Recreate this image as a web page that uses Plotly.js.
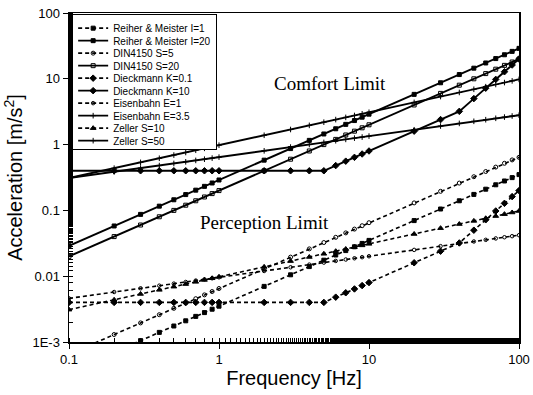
<!DOCTYPE html>
<html>
<head>
<meta charset="utf-8">
<script src="https://cdn.plot.ly/plotly-3.0.1.min.js"></script>
<style>html,body{margin:0;padding:0;background:#fff;}#chart{width:533px;height:395px;}</style>
</head>
<body>
<div id="chart"></div>
<script>
// Frequencies (Hz) where each curve is sampled
const freq = [0.1,0.2,0.3,0.4,0.5,0.6,0.7,0.8,0.9,1,2,3,4,5,6,7,8,9,10,20,30,40,50,60,70,80,90,100];

// Acceleration values [m/s^2]
const reiherI1 = [0.00035,0.0007,0.00105,0.0014,0.00175,0.0021,0.00245,0.0028,0.00315,0.0035,0.007,0.0105,0.014,0.0175,0.021,0.0245,0.028,0.0315,0.035,0.07,0.105,0.14,0.175,0.21,0.245,0.28,0.315,0.35];
const reiherI20 = [0.029,0.058,0.087,0.116,0.145,0.174,0.203,0.232,0.261,0.29,0.58,0.87,1.16,1.45,1.74,2.03,2.32,2.61,2.9,5.8,8.7,11.6,14.5,17.4,20.3,23.2,26.1,29];
const din5 = [0.00065,0.0013,0.00195,0.0026,0.00325,0.0039,0.00455,0.0052,0.00585,0.0065,0.013,0.0195,0.026,0.0325,0.039,0.0455,0.052,0.0585,0.065,0.13,0.195,0.26,0.325,0.39,0.455,0.52,0.585,0.64];
const din20 = [0.02,0.04,0.06,0.08,0.1,0.12,0.14,0.16,0.18,0.2,0.4,0.6,0.8,1,1.2,1.4,1.6,1.8,2,4,6,8,10,12,14,16,18,20];
const dieckK01 = [0.004,0.004,0.004,0.004,0.004,0.004,0.004,0.004,0.004,0.004,0.004,0.004,0.004,0.004,0.0048,0.0056,0.0064,0.0072,0.008,0.016,0.024,0.032,0.05,0.072,0.098,0.128,0.162,0.2];
const dieckK10 = [0.4,0.4,0.4,0.4,0.4,0.4,0.4,0.4,0.4,0.4,0.4,0.4,0.4,0.4,0.48,0.56,0.64,0.72,0.8,1.6,2.4,3.2,5,7.2,9.8,12.8,16.2,20];
const eisenE1 = [0.0046,0.00575,0.00655,0.00718,0.00771,0.00817,0.00858,0.00896,0.0093,0.00962,0.012,0.01368,0.015,0.0161,0.01707,0.01793,0.01872,0.01944,0.0201,0.0251,0.0286,0.0313,0.0337,0.0357,0.0375,0.0391,0.0406,0.042];
const eisenE35 = [0.31,0.385,0.44,0.48,0.517,0.547,0.575,0.6,0.623,0.645,0.804,0.917,1.005,1.08,1.144,1.2,1.254,1.302,1.347,1.68,1.916,2.1,2.26,2.39,2.51,2.62,2.72,2.8];
const zellerS10 = [0.0031,0.00438,0.00537,0.0062,0.00693,0.00759,0.0082,0.00877,0.0093,0.0098,0.01386,0.01697,0.0196,0.0219,0.024,0.0259,0.0277,0.0294,0.031,0.0438,0.0537,0.062,0.0693,0.0759,0.082,0.0877,0.093,0.098];
const zellerS50 = [0.31,0.438,0.537,0.62,0.693,0.759,0.82,0.877,0.93,0.98,1.386,1.697,1.96,2.19,2.4,2.59,2.77,2.94,3.1,4.38,5.37,6.2,6.93,7.59,8.2,8.77,9.3,9.8];

const seriesNames = ["Reiher & Meister I=1","Reiher & Meister I=20","DIN4150 S=5","DIN4150 S=20","Dieckmann K=0.1","Dieckmann K=10","Eisenbahn E=1","Eisenbahn E=3.5","Zeller S=10","Zeller S=50"];
const seriesData = [reiherI1,reiherI20,din5,din20,dieckK01,dieckK10,eisenE1,eisenE35,zellerS10,zellerS50];
const seriesSymbols = ["square","square","circle-open","square-open","diamond","diamond","circle-open","cross-thin","triangle-up","cross-thin"];
const seriesSizes = [4,4,4,4,5,5,3.5,4,5,4];

const DASH = "4px,3px";
const traces = seriesData.map((y, i) => {
  const dashed = (i % 2 === 0);
  return {
    x: freq, y: y, name: seriesNames[i], type: "scatter", mode: "lines+markers",
    line: {color: "#000", width: dashed ? 1.6 : 1.9, dash: dashed ? DASH : "solid"},
    marker: {symbol: seriesSymbols[i], size: seriesSizes[i], color: "#000", line: {color: "#000", width: 1}}
  };
});

const layout = {
  width: 533, height: 395,
  margin: {l: 69, r: 14, t: 13, b: 53},
  paper_bgcolor: "#fff", plot_bgcolor: "#fff",
  font: {family: "Liberation Sans, Arial, sans-serif", color: "#000", size: 13},
  showlegend: true,
  legend: {x: 0.007, y: 0.998, xanchor: "left", yanchor: "top", bgcolor: "#fff", bordercolor: "#000", borderwidth: 1,
           font: {size: 10, family: "Liberation Sans, Arial, sans-serif"}, itemwidth: 30, tracegroupgap: 0},
  xaxis: {
    type: "log", range: [-1, 2], showgrid: false, zeroline: false,
    showline: true, linecolor: "#000", linewidth: 1.5, mirror: true,
    ticks: "outside", ticklen: 5, tickcolor: "#000",
    tickvals: [0.1, 1, 10, 100], ticktext: ["0.1", "1", "10", "100"],
    minor: {ticks: "inside", ticklen: 4, tickcolor: "#000", showgrid: false},
    title: {text: "Frequency [Hz]", font: {size: 20}, standoff: 4}
  },
  yaxis: {
    type: "log", range: [-3, 2], showgrid: false, zeroline: false,
    showline: true, linecolor: "#000", linewidth: 1.5, mirror: true,
    ticks: "outside", ticklen: 5, tickcolor: "#000",
    tickvals: [0.001, 0.01, 0.1, 1, 10, 100], ticktext: ["1E-3", "0.01", "0.1", "1", "10", "100"],
    minor: {ticks: "inside", ticklen: 4, tickcolor: "#000", showgrid: false},
    title: {text: "Acceleration [m/s<sup>2</sup>]", font: {size: 20}, standoff: 4}
  },
  annotations: [
    {x: Math.log10(5.5), y: Math.log10(8.6), xref: "x", yref: "y", text: "Comfort Limit", showarrow: false,
     font: {family: "Liberation Serif, Times New Roman, serif", size: 19, color: "#000"}},
    {x: Math.log10(2.0), y: Math.log10(0.065), xref: "x", yref: "y", text: "Perception Limit", showarrow: false,
     font: {family: "Liberation Serif, Times New Roman, serif", size: 19, color: "#000"}}
  ]
};

Plotly.newPlot("chart", traces, layout, {displayModeBar: false, staticPlot: true}).then(gd => {
  // tighten legend row spacing to match the reference
  const items = gd.querySelectorAll(".legend .traces");
  const rowH = 12.5;
  let y0 = null;
  items.forEach((el, i) => {
    const t = el.getAttribute("transform") || "";
    const m = t.match(/translate\(([-\d.]+)[ ,]+([-\d.]+)\)/);
    if (!m) return;
    const x = parseFloat(m[1]);
    if (y0 === null) y0 = parseFloat(m[2]) - 1;
    el.setAttribute("transform", "translate(" + x + "," + (y0 + i * rowH) + ")");
  });
  const bg = gd.querySelector(".legend .bg");
  if (bg && y0 !== null) bg.setAttribute("height", y0 + (items.length - 1) * rowH + 8);
});
</script>
</body>
</html>
